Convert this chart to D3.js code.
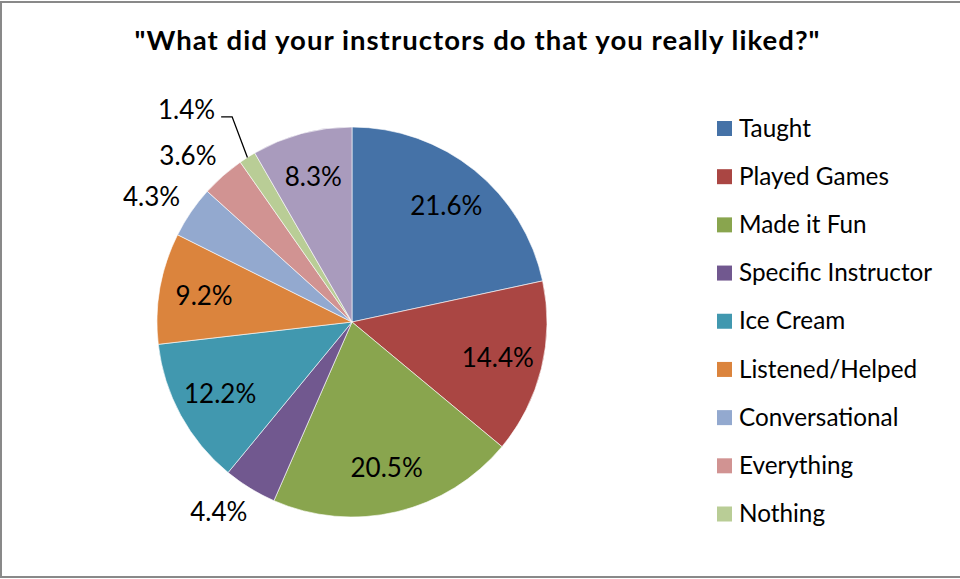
<!DOCTYPE html>
<html>
<head>
<meta charset="utf-8">
<script src="https://cdn.jsdelivr.net/npm/d3@7"></script>
<style>
  html, body { margin: 0; padding: 0; background: #fff; }
  svg { display: block; font-family: Lato, "Open Sans", sans-serif; }
</style>
</head>
<body>
<svg id="chart" width="960" height="579"></svg>
<script>
// ---- data ----
const title = '"What did your instructors do that you really liked?"';
const categories = ["Taught", "Played Games", "Made it Fun", "Specific Instructor", "Ice Cream",
                    "Listened/Helped", "Conversational", "Everything", "Nothing", "Other"];
const values = [21.6, 14.4, 20.5, 4.4, 12.2, 9.2, 4.3, 3.6, 1.4, 8.3];
const legendCategories = ["Taught", "Played Games", "Made it Fun", "Specific Instructor", "Ice Cream",
                          "Listened/Helped", "Conversational", "Everything", "Nothing"];
const colors = ["#4572A7", "#AA4643", "#89A54E", "#71588F", "#4198AF",
                "#DB843D", "#93A9CF", "#D19392", "#B9CD96", "#A99BBD"];

// ---- layout ----
const W = 960, H = 579;
const cx = 352, cy = 322, R = 195;
const svg = d3.select("#chart");

// border (right edge is cut off in the reference)
svg.append("rect")
  .attr("x", 1).attr("y", 2).attr("width", W + 20).attr("height", H - 4)
  .attr("fill", "none").attr("stroke", "#898989").attr("stroke-width", 2);

// title
svg.append("text")
  .attr("x", 477).attr("y", 50)
  .attr("text-anchor", "middle")
  .attr("font-weight", "bold")
  .attr("font-size", 27.5)
  .attr("textLength", 685)
  .attr("lengthAdjust", "spacing")
  .attr("fill", "#000")
  .text(title);

const color = d3.scaleOrdinal().domain(categories).range(colors);
const data = categories.map((c, i) => ({ cat: c, value: values[i] }));

const pie = d3.pie().sort(null).value(d => d.value);
const arcs = pie(data);
const arc = d3.arc().innerRadius(0).outerRadius(R);

const g = svg.append("g").attr("transform", `translate(${cx},${cy})`);

g.selectAll("path.slice")
  .data(arcs)
  .enter().append("path")
  .attr("class", "slice")
  .attr("d", arc)
  .attr("fill", d => color(d.data.cat))
  .attr("stroke", "#fff")
  .attr("stroke-width", 0.6);

// labels
const fs = 26;
const capH = fs * 0.72;
const fmt = v => v.toFixed(1) + "%";
const minVal = d3.min(values);

arcs.forEach(d => {
  const mid = (d.startAngle + d.endAngle) / 2;
  const s = Math.sin(mid), c = Math.cos(mid);
  let x, y;
  const txt = g.append("text")
    .attr("font-size", fs)
    .attr("text-anchor", "middle")
    .attr("fill", "#000")
    .text(fmt(d.data.value));
  const w = txt.node().getComputedTextLength();
  if (d.data.value >= 5) {
    const r = R * 0.77;
    x = r * s; y = -r * c;
  } else if (d.data.value > minVal) {
    const r = R + 27;
    x = r * s + Math.sign(s) * w * 0.3; y = -r * c;
  } else {
    const r = R + 57;
    x = r * s + Math.sign(s) * w * 0.53; y = -r * c;
    // leader line
    const ex = R * s, ey = -R * c;
    const lx = x + w / 2 + 6, ly = y + 7.5;
    g.append("path")
      .attr("d", d3.line()([[lx, ly], [lx + 11, ly], [ex, ey]]))
      .attr("fill", "none").attr("stroke", "#000").attr("stroke-width", 1.3);
  }
  txt.attr("x", x).attr("y", y + capH / 2);
});

// legend
const lg = svg.append("g");
const rowY = d3.scalePoint().domain(legendCategories).range([128.5, 514]);
legendCategories.forEach(cat => {
  const y = rowY(cat);
  lg.append("rect")
    .attr("x", 717).attr("y", y - 7.5).attr("width", 15).attr("height", 15)
    .attr("fill", color(cat));
  lg.append("text")
    .attr("x", 739).attr("y", y + 8.2)
    .attr("font-size", 24.3)
    .attr("fill", "#000")
    .text(cat);
});
</script>
</body>
</html>
